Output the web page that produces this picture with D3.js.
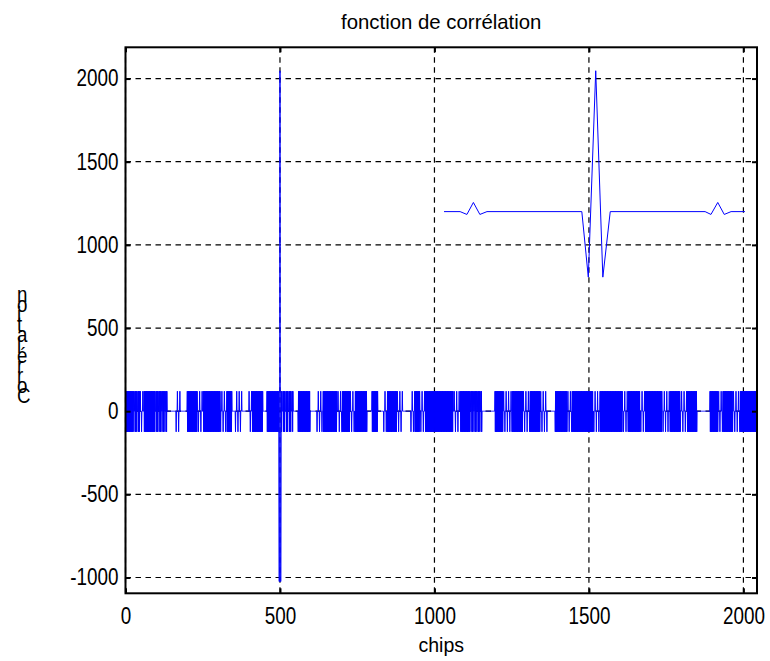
<!DOCTYPE html>
<html>
<head>
<meta charset="utf-8">
<script src="https://cdn.jsdelivr.net/npm/d3@7"></script>
<style>
  body { margin: 0; background: #fff; }
  text { font-family: "Liberation Sans", Arial, sans-serif; fill: #000; }
</style>
</head>
<body>
<svg id="chart" width="770" height="661"></svg>
<script>
"use strict";

// Tick labels
const xTicks = [0, 500, 1000, 1500, 2000];
const yTicks = [-1000, -500, 0, 500, 1000, 1500, 2000];

// Correlation levels
const noiseHigh = 120,
  noiseLow = -124;

// Runs of the correlation over the chips: [first chip, kind]
// F = dense +/- switching, M = switching with holes, P = a few isolated spikes, Z = flat 0
const noiseRuns = [
  [0, "F"], [22, "M"], [48, "P"], [60, "F"], [90, "M"], [135, "Z"], [161, "P"], [177, "Z"],
  [200, "F"], [232, "P"], [252, "F"], [307, "P"], [329, "F"], [345, "Z"], [355, "P"], [378, "Z"],
  [397, "P"], [410, "F"], [445, "Z"], [458, "F"], [491, "M"], [543, "Z"], [559, "F"], [598, "Z"],
  [620, "P"], [640, "F"], [685, "P"], [701, "F"], [727, "P"], [743, "F"], [782, "Z"], [798, "F"],
  [817, "Z"], [834, "P"], [847, "F"], [879, "P"], [898, "Z"], [921, "P"], [937, "F"], [953, "P"],
  [970, "F"], [1061, "P"], [1084, "F"], [1116, "M"], [1154, "Z"], [1196, "F"], [1222, "P"],
  [1251, "F"], [1287, "P"], [1310, "F"], [1342, "P"], [1365, "Z"], [1391, "F"], [1430, "P"],
  [1446, "F"], [1514, "P"], [1537, "F"], [1608, "P"], [1627, "F"], [1666, "P"], [1682, "F"],
  [1737, "P"], [1763, "F"], [1795, "P"], [1818, "F"], [1850, "Z"], [1892, "F"], [1918, "P"],
  [1934, "F"], [1966, "P"], [1989, "F"]
];
const nChips = 2047;

// Main peak
const peakChips = [497, 498, 499, 500, 501, 502, 503];
const peakValues = [-1024, -1024, -1024, 2047, -1024, -1024, -1024];

// Second (shifted) curve
const zoomChips = [1031, 1083, 1105, 1126, 1147, 1170, 1477, 1498, 1522, 1545, 1569, 1876, 1895, 1917, 1938, 1960, 2005];
const zoomValues = [1200, 1200, 1183, 1255, 1183, 1200, 1200, 806, 2047, 806, 1200, 1200, 1183, 1255, 1183, 1200, 1200];

// build the sample list from the runs
function valueFor(kind, i) {
  if (kind === "F") return i % 2 ? noiseLow : noiseHigh;
  if (kind === "M") return (i % 10 < 7) ? (i % 2 ? noiseLow : noiseHigh) : 0;
  if (kind === "P") {
    if (i % 8 === 0) return noiseHigh;
    if (i % 8 === 4) return noiseLow;
    return 0;
  }
  return 0;
}

var corr = [];
var r = 0;
for (let i = 0; i < nChips; i++) {
  while (r + 1 < noiseRuns.length && noiseRuns[r + 1][0] <= i) r++;
  corr.push([i, valueFor(noiseRuns[r][1], i)]);
}
peakChips.forEach((c, k) => { corr[c] = [c, peakValues[k]]; });

var zoomLine = zoomChips.map((c, k) => [c, zoomValues[k]]);

// narrow a text to a share of its natural width (the reference font is condensed)
function squeeze(sel, k) {
  sel.each(function() {
    let w = this.getComputedTextLength();
    d3.select(this)
      .attr("textLength", w * k)
      .attr("lengthAdjust", "spacingAndGlyphs");
  });
}

// Layout
var graph = {};
graph.svg = d3.select("#chart");
graph.left = 125.5;
graph.right = 757;
graph.top = 47.3;
graph.bottom = 593.3;

graph.svg.append("rect")
  .attr("width", 770)
  .attr("height", 661)
  .attr("fill", "#fff");

var x = d3.scaleLinear()
  .domain([0, 2044])
  .range([graph.left, graph.right]);

var y = d3.scaleLinear()
  .domain([-1095, 2188])
  .range([graph.bottom, graph.top]);

graph.svg.append("clipPath")
  .attr("id", "clip")
  .append("rect")
  .attr("x", graph.left)
  .attr("y", graph.top)
  .attr("width", graph.right - graph.left)
  .attr("height", graph.bottom - graph.top);

// Grid
var grid = graph.svg.append("g").attr("class", "grid");

grid.selectAll("line.gx")
  .data(xTicks)
  .enter()
  .append("line")
  .attr("class", "gx")
  .attr("x1", (d) => x(d))
  .attr("x2", (d) => x(d))
  .attr("y1", graph.top)
  .attr("y2", graph.bottom);

grid.selectAll("line.gy")
  .data(yTicks)
  .enter()
  .append("line")
  .attr("class", "gy")
  .attr("y1", (d) => y(d))
  .attr("y2", (d) => y(d))
  .attr("x1", graph.left)
  .attr("x2", graph.right);

grid.selectAll("line")
  .attr("stroke", "#000")
  .attr("stroke-width", 1.2)
  .attr("stroke-dasharray", "5.5,4.5");

// Curves
var line = d3.line()
  .x((d) => x(d[0]))
  .y((d) => y(d[1]));

var data_g = graph.svg.append("g")
  .attr("clip-path", "url(#clip)");

data_g.append("path")
  .datum(corr)
  .attr("d", line)
  .attr("fill", "none")
  .attr("stroke", "#0000ff")
  .attr("stroke-width", 1);

data_g.append("path")
  .datum(zoomLine)
  .attr("d", line)
  .attr("fill", "none")
  .attr("stroke", "#0000ff")
  .attr("stroke-width", 1);

// Axes, ticks inside on all four sides like a boxed plot
var tk = 5;
var fmt = (d) => String(d);
var xAxisB = d3.axisBottom(x).tickValues(xTicks).tickSizeInner(-tk).tickSizeOuter(0).tickPadding(14).tickFormat(fmt);
var xAxisT = d3.axisTop(x).tickValues(xTicks).tickSizeInner(-tk).tickSizeOuter(0).tickFormat("");
var yAxisL = d3.axisLeft(y).tickValues(yTicks).tickSizeInner(-tk).tickSizeOuter(0).tickPadding(7).tickFormat(fmt);
var yAxisR = d3.axisRight(y).tickValues(yTicks).tickSizeInner(-tk).tickSizeOuter(0).tickFormat("");

var gxB = graph.svg.append("g").attr("transform", "translate(0," + graph.bottom + ")").call(xAxisB);
var gxT = graph.svg.append("g").attr("transform", "translate(0," + graph.top + ")").call(xAxisT);
var gyL = graph.svg.append("g").attr("transform", "translate(" + graph.left + ",0)").call(yAxisL);
var gyR = graph.svg.append("g").attr("transform", "translate(" + graph.right + ",0)").call(yAxisR);

[gxB, gxT, gyL, gyR].forEach((g) => {
  g.select(".domain").remove();
  g.selectAll(".tick line").attr("stroke", "#000").attr("stroke-width", 2);
  g.selectAll(".tick text")
    .attr("font-size", 23)
    .style("font-family", "'Liberation Sans', Arial, sans-serif")
    .attr("fill", "#000");
});
gxB.selectAll(".tick text").attr("dy", "0.71em");
squeeze(gxB.selectAll(".tick text"), 0.82);
squeeze(gyL.selectAll(".tick text"), 0.82);

// Box
graph.svg.append("rect")
  .attr("x", graph.left)
  .attr("y", graph.top)
  .attr("width", graph.right - graph.left)
  .attr("height", graph.bottom - graph.top)
  .attr("fill", "none")
  .attr("stroke", "#000")
  .attr("stroke-width", 2);

// Title and labels
var title = graph.svg.append("text")
  .attr("x", (graph.left + graph.right) / 2)
  .attr("y", 29)
  .attr("text-anchor", "middle")
  .attr("font-size", 21)
  .text("fonction de corrélation");
squeeze(title, 0.97);

var xlabel = graph.svg.append("text")
  .attr("x", (graph.left + graph.right) / 2)
  .attr("y", 652)
  .attr("text-anchor", "middle")
  .attr("font-size", 21)
  .text("chips");
squeeze(xlabel, 0.93);

// y label: letters stacked upright, bottom to top
var ylabel = "Corrélation".split("");
var yl = graph.svg.append("g")
  .selectAll("text")
  .data(ylabel)
  .enter()
  .append("text")
  .attr("x", 17)
  .attr("y", (d, i) => 403 - i * 10.1)
  .attr("font-size", 22)
  .text((d) => d);
squeeze(yl, 0.85);
</script>
</body>
</html>
